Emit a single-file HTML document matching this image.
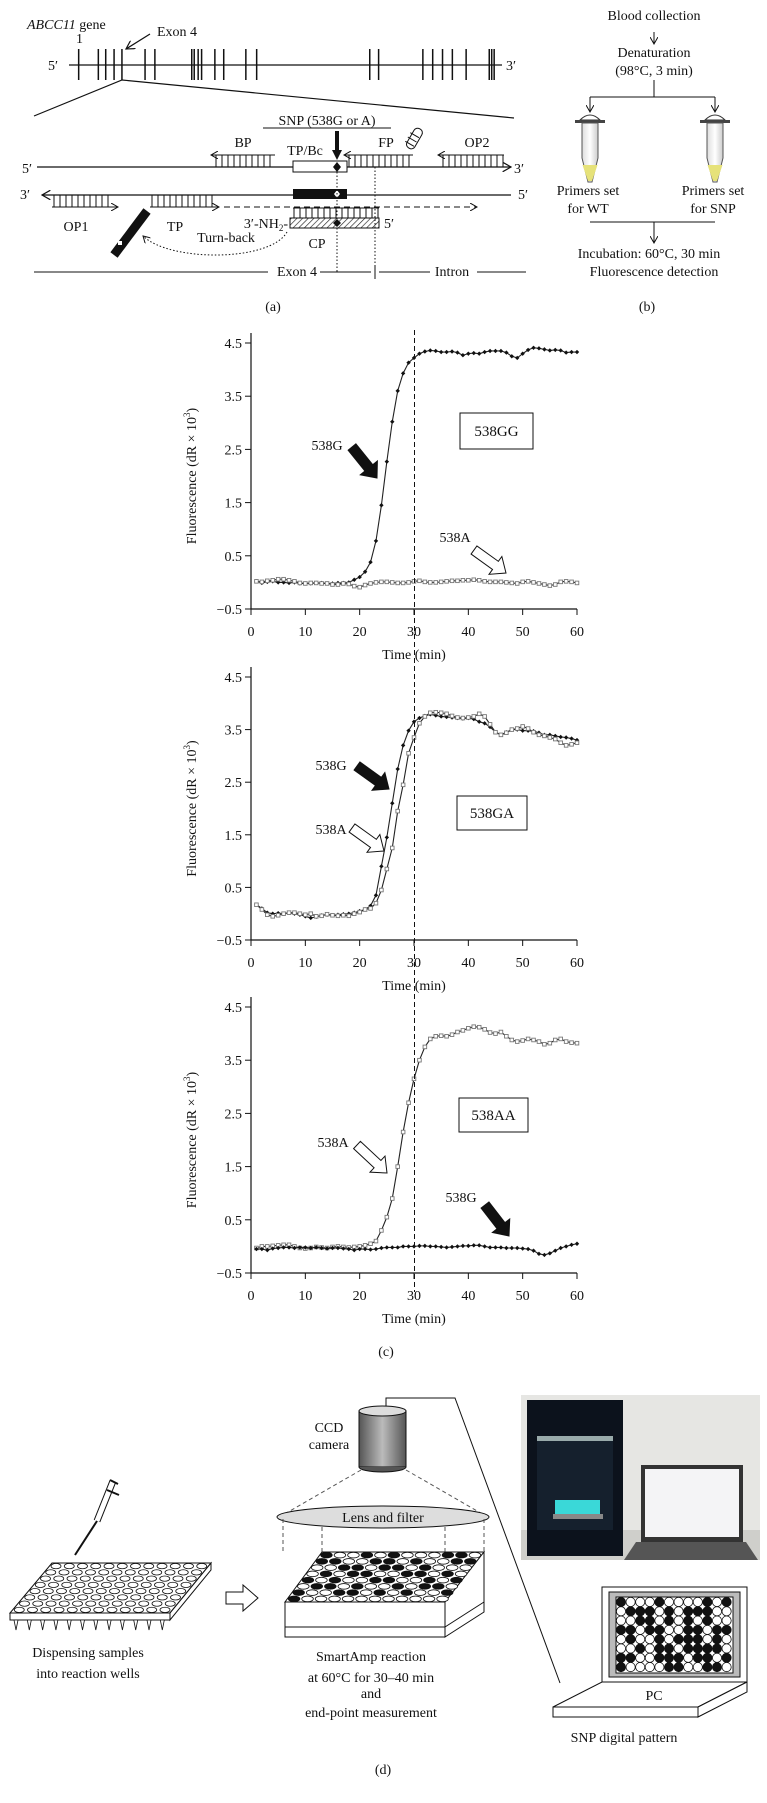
<!DOCTYPE html>
<html><head><meta charset="utf-8"><style>
html,body{margin:0;padding:0;background:#fff}
svg{display:block}
text{font-family:"Liberation Serif",serif;fill:#111}
</style></head><body>
<svg id="fig" width="767" height="1803" viewBox="0 0 767 1803" xmlns="http://www.w3.org/2000/svg">
<defs>
<pattern id="hatch" width="4" height="4" patternUnits="userSpaceOnUse" patternTransform="rotate(45)"><line x1="0" y1="0" x2="0" y2="4" stroke="#222" stroke-width="1.3"/></pattern>
<marker id="ah" markerWidth="8" markerHeight="8" refX="7" refY="4" orient="auto"><path d="M0,0 L7,4 L0,8" fill="none" stroke="#111" stroke-width="1"/></marker>
<linearGradient id="tubeg" x1="0" x2="1"><stop offset="0" stop-color="#ddd"/><stop offset="0.5" stop-color="#fff"/><stop offset="1" stop-color="#ccc"/></linearGradient>
<linearGradient id="camg" x1="0" x2="1"><stop offset="0" stop-color="#555"/><stop offset="0.5" stop-color="#bbb"/><stop offset="1" stop-color="#555"/></linearGradient>
</defs>

<!-- PANEL A -->
<g id="panel-a" font-size="14">
<text x="27" y="29" font-style="italic">ABCC11<tspan font-style="normal"> gene</tspan></text>
<text x="76" y="43">1</text>
<text x="157" y="36">Exon 4</text>
<line x1="150" y1="34" x2="126" y2="49" stroke="#111" stroke-width="1.2" marker-end="url(#ah)"/>
<text x="48" y="70">5′</text>
<text x="506" y="70">3′</text>
<line x1="69" y1="65" x2="502" y2="65" stroke="#111" stroke-width="1.2"/>
<g id="exons" stroke="#111" stroke-width="1.5"></g>
<polyline points="34,116 122,80 514,118" fill="none" stroke="#111" stroke-width="1.2"/>
<text x="327" y="125" text-anchor="middle">SNP (538G or A)</text>
<line x1="263" y1="128" x2="391" y2="128" stroke="#111"/>
<polygon points="335,131 339,131 339,150 342,150 337,160 332,150 335,150" fill="#111"/>
<text x="22" y="173">5′</text>
<line x1="37" y1="167" x2="511" y2="167" stroke="#111" stroke-width="1.2" marker-end="url(#ah)"/>
<text x="514" y="173">3′</text>
<text x="243" y="147" text-anchor="middle">BP</text>
<text x="305" y="155" text-anchor="middle">TP/Bc</text>
<text x="386" y="147" text-anchor="middle">FP</text>
<text x="477" y="147" text-anchor="middle">OP2</text>
<g id="primers-top" stroke="#111" stroke-width="1" fill="none"></g>
<rect x="293" y="161" width="54" height="11" fill="#fff" stroke="#111"/>
<polygon points="337,162 341,167 337,172 333,167" fill="#111"/>
<rect x="409" y="127" width="9" height="22" rx="4" fill="#fff" stroke="#111" transform="rotate(30 413 140)"/>
<line x1="407" y1="135" x2="417" y2="135" stroke="#111" transform="rotate(30 413 140)"/>
<line x1="407" y1="140" x2="417" y2="140" stroke="#111" transform="rotate(30 413 140)"/>
<line x1="407" y1="145" x2="417" y2="145" stroke="#111" transform="rotate(30 413 140)"/>
<text x="20" y="199">3′</text>
<line x1="511" y1="195" x2="42" y2="195" stroke="#111" stroke-width="1.2" marker-end="url(#ah)"/>
<text x="518" y="199">5′</text>
<rect x="293" y="189" width="54" height="10" fill="#111"/>
<polygon points="337,190 340,194 337,198 334,194" fill="#fff"/>
<g id="primers-bot" stroke="#111" stroke-width="1" fill="none"></g>
<line x1="224" y1="207" x2="477" y2="207" stroke="#111" stroke-dasharray="6,4" marker-end="url(#ah)"/>
<text x="76" y="231" text-anchor="middle">OP1</text>
<text x="175" y="231" text-anchor="middle">TP</text>
<line x1="147" y1="211" x2="114" y2="255" stroke="#111" stroke-width="9"/>
<rect x="118" y="241" width="4" height="4" fill="#fff"/>
<rect x="290" y="218" width="89" height="10" fill="url(#hatch)" stroke="#111"/>
<polygon points="337,219 341,223 337,227 333,223" fill="#111"/>
<text x="288" y="228" text-anchor="end">3′-NH<tspan font-size="9" dy="3">2</tspan><tspan dy="-3">-</tspan></text>
<text x="384" y="228">5′</text>
<text x="317" y="248" text-anchor="middle">CP</text>
<text x="226" y="242" text-anchor="middle">Turn-back</text>
<path d="M287,232 C270,262 170,262 143,236" fill="none" stroke="#111" stroke-dasharray="1.5,2" marker-end="url(#ah)"/>
<line x1="337" y1="172" x2="337" y2="272" stroke="#111" stroke-dasharray="1.5,2"/>
<line x1="375" y1="167" x2="375" y2="276" stroke="#111" stroke-dasharray="1.5,2"/>
<line x1="34" y1="272" x2="268" y2="272" stroke="#111"/>
<text x="297" y="276" text-anchor="middle">Exon 4</text>
<line x1="320" y1="272" x2="371" y2="272" stroke="#111"/>
<line x1="430" y1="272" x2="379" y2="272" stroke="#111"/>
<line x1="375" y1="265" x2="375" y2="279" stroke="#111"/>
<text x="452" y="276" text-anchor="middle">Intron</text>
<line x1="477" y1="272" x2="526" y2="272" stroke="#111"/>
<text x="273" y="311" text-anchor="middle">(a)</text>
</g>

<!-- PANEL B -->
<g id="panel-b" font-size="14" text-anchor="middle">
<text x="654" y="20">Blood collection</text>
<line x1="654" y1="32" x2="654" y2="44" stroke="#111" marker-end="url(#ah)"/>
<text x="654" y="57">Denaturation</text>
<text x="654" y="75">(98°C, 3 min)</text>
<polyline points="654,80 654,97" fill="none" stroke="#111"/>
<line x1="590" y1="97" x2="715" y2="97" stroke="#111"/>
<line x1="590" y1="97" x2="590" y2="112" stroke="#111" marker-end="url(#ah)"/>
<line x1="715" y1="97" x2="715" y2="112" stroke="#111" marker-end="url(#ah)"/>
<g id="tube-wt" transform="translate(590,0)">
<path d="M-10,120 Q0,110 10,120 Z" fill="#fff" stroke="#333"/><rect x="-15" y="120" width="30" height="3" fill="#444"/>
<path d="M-8,123 L8,123 L8,158 L2,182 L-2,182 L-8,158 Z" fill="url(#tubeg)" stroke="#555"/>
<path d="M-7.5,165 L7.5,165 L2,181 L-2,181 Z" fill="#e6e27a"/></g>
<g id="tube-snp" transform="translate(715,0)">
<path d="M-10,120 Q0,110 10,120 Z" fill="#fff" stroke="#333"/><rect x="-15" y="120" width="30" height="3" fill="#444"/>
<path d="M-8,123 L8,123 L8,158 L2,182 L-2,182 L-8,158 Z" fill="url(#tubeg)" stroke="#555"/>
<path d="M-7.5,165 L7.5,165 L2,181 L-2,181 Z" fill="#e6e27a"/></g>
<text x="588" y="195">Primers set</text><text x="588" y="213">for WT</text>
<text x="713" y="195">Primers set</text><text x="713" y="213">for SNP</text>
<line x1="590" y1="222" x2="715" y2="222" stroke="#111"/>
<line x1="654" y1="222" x2="654" y2="243" stroke="#111" marker-end="url(#ah)"/>
<text x="649" y="258">Incubation: 60°C, 30 min</text>
<text x="654" y="276">Fluorescence detection</text>
<text x="647" y="311">(b)</text>
</g>

<!-- PANEL C CHARTS -->
<g id="charts"></g>
<line x1="414.5" y1="330" x2="414.5" y2="1292" stroke="#111" stroke-dasharray="5,3"/>
<text x="386" y="1356" font-size="14" text-anchor="middle">(c)</text>

<!-- PANEL D -->
<g id="panel-d" font-size="14">
<g>
<line x1="113" y1="1481" x2="97" y2="1521" stroke="#111" stroke-width="7"/>
<line x1="113" y1="1481" x2="97" y2="1521" stroke="#fff" stroke-width="5"/>
<line x1="107" y1="1490" x2="119" y2="1495" stroke="#111" stroke-width="2"/>
<line x1="110" y1="1480" x2="118" y2="1484" stroke="#111" stroke-width="2"/>
<line x1="97" y1="1521" x2="75" y2="1555" stroke="#111" stroke-width="2"/>
</g>
<g id="plate1">
<polygon points="52,1563 211,1563 170,1613 10,1613" fill="#fff" stroke="#111"/>
<polygon points="10,1613 170,1613 170,1620 10,1620" fill="#fff" stroke="#111"/>
<polygon points="170,1613 211,1563 211,1570 170,1620" fill="#fff" stroke="#111"/>
</g>
<text x="88" y="1657" text-anchor="middle">Dispensing samples</text>
<text x="88" y="1678" text-anchor="middle">into reaction wells</text>
<polygon points="226,1592 243,1592 243,1585 258,1598 243,1611 243,1604 226,1604" fill="#fff" stroke="#111"/>
<polyline points="386,1409 386,1398 455,1398 560,1683" fill="none" stroke="#111"/>
<rect x="359" y="1411" width="47" height="56" fill="url(#camg)" stroke="#111"/>
<ellipse cx="382.5" cy="1411" rx="23.5" ry="5" fill="#ddd" stroke="#111"/>
<path d="M359,1467 A23.5,5 0 0 0 406,1467" fill="#555" stroke="#111"/>
<text x="329" y="1432" text-anchor="middle">CCD</text>
<text x="329" y="1449" text-anchor="middle">camera</text>
<line x1="361" y1="1470" x2="283" y2="1515" stroke="#555" stroke-dasharray="4,3"/>
<line x1="406" y1="1470" x2="484" y2="1515" stroke="#555" stroke-dasharray="4,3"/>
<ellipse cx="383" cy="1517" rx="106" ry="11" fill="#ddd" stroke="#111"/>
<text x="383" y="1522" text-anchor="middle">Lens and filter</text>
<g stroke="#555" stroke-dasharray="4,3"><line x1="283" y1="1519" x2="283" y2="1553"/><line x1="322" y1="1527" x2="322" y2="1552"/><line x1="445" y1="1527" x2="445" y2="1552"/><line x1="484" y1="1519" x2="484" y2="1553"/></g>
<g id="plate2">
<polygon points="322,1552 484,1552 445,1602 285,1602" fill="#fff" stroke="#111"/>
<rect x="285" y="1602" width="160" height="35" fill="#fff" stroke="#111"/>
<line x1="285" y1="1627" x2="445" y2="1627" stroke="#111"/>
<polygon points="445,1602 484,1552 484,1612 445,1637" fill="#fff" stroke="#111"/>
<line x1="445" y1="1627" x2="484" y2="1602" stroke="#111"/>
</g>
<text x="371" y="1661" text-anchor="middle">SmartAmp reaction</text>
<text x="371" y="1682" text-anchor="middle">at 60°C for 30–40 min</text>
<text x="371" y="1698" text-anchor="middle">and</text>
<text x="371" y="1717" text-anchor="middle">end-point measurement</text>
<g>
<rect x="521" y="1395" width="239" height="165" fill="#e6e6e3"/>
<rect x="521" y="1530" width="239" height="30" fill="#cfcfcb"/>
<rect x="527" y="1400" width="96" height="156" fill="#0c121c"/>
<rect x="537" y="1438" width="76" height="92" fill="#15202d"/>
<rect x="537" y="1436" width="76" height="5" fill="#9aa"/>
<rect x="555" y="1500" width="45" height="14" fill="#3ad8d8"/>
<rect x="553" y="1514" width="50" height="5" fill="#888"/>
<rect x="641" y="1465" width="102" height="77" fill="#333"/>
<rect x="645" y="1469" width="94" height="68" fill="#f4f4f6"/>
<polygon points="636,1542 746,1542 758,1560 624,1560" fill="#555"/>
</g>
<g>
<rect x="602" y="1587" width="145" height="95" fill="#fff" stroke="#111"/>
<rect x="609" y="1592" width="131" height="85" fill="#bbb" stroke="#111"/>
<rect x="616" y="1597" width="117" height="76" fill="#fff" stroke="#111"/>
<polygon points="602,1682 747,1682 698,1707 553,1707" fill="#fff" stroke="#111"/>
<rect x="553" y="1707" width="145" height="10" fill="#fff" stroke="#111"/>
<polygon points="698,1707 747,1682 747,1692 698,1717" fill="#fff" stroke="#111"/>
<text x="654" y="1700" text-anchor="middle">PC</text>
</g>
<g id="screen-wells"></g>
<text x="624" y="1742" text-anchor="middle">SNP digital pattern</text>
<text x="383" y="1774" text-anchor="middle">(d)</text>
</g>
</svg>
<script>
const timePoints = Array.from({length:60},(_,i)=>i+1);
const xTicks = [0,10,20,30,40,50,60];
const yTicks = [-0.5,0.5,1.5,2.5,3.5,4.5];
const yTickLabels = ["\u22120.5","0.5","1.5","2.5","3.5","4.5"];
const gg538G = [0.02,-0.01,0.01,0.02,0.0,0.0,-0.01,0.0,-0.02,-0.02,-0.02,-0.01,-0.01,-0.02,-0.02,-0.01,-0.01,0.0,0.05,0.1,0.2,0.38,0.78,1.45,2.27,3.02,3.6,3.93,4.13,4.22,4.3,4.34,4.36,4.35,4.33,4.33,4.34,4.32,4.27,4.3,4.31,4.3,4.33,4.35,4.35,4.35,4.32,4.25,4.22,4.3,4.37,4.41,4.4,4.38,4.36,4.37,4.36,4.32,4.33,4.33];
const gg538A = [0.02,0.01,0.03,0.04,0.06,0.06,0.04,0.02,-0.01,-0.02,-0.01,-0.01,-0.02,-0.02,-0.04,-0.04,-0.02,-0.03,-0.07,-0.09,-0.05,-0.02,0,0.01,0.01,0,-0.01,-0.01,0,0.02,0.03,0.01,0,0,0.01,0.02,0.03,0.03,0.04,0.04,0.05,0.04,0.02,0.01,0.01,0.01,0.0,-0.01,-0.02,0.01,0.02,0.0,-0.02,-0.04,-0.06,-0.04,0.01,0.02,0.01,-0.01];
const ga538G = [0.17,0.1,0.02,0.0,0.01,0.0,0.02,0.0,-0.02,-0.05,-0.08,-0.06,-0.03,-0.02,-0.03,-0.02,-0.01,0.0,0.02,0.05,0.08,0.15,0.35,0.9,1.45,2.1,2.75,3.2,3.48,3.65,3.72,3.76,3.79,3.77,3.75,3.74,3.73,3.72,3.71,3.72,3.7,3.65,3.62,3.55,3.45,3.4,3.45,3.5,3.5,3.48,3.48,3.47,3.44,3.4,3.4,3.38,3.36,3.35,3.33,3.3];
const ga538A = [0.17,0.08,-0.02,-0.05,-0.03,0.0,0.02,0.02,0.0,-0.02,0.0,-0.05,-0.04,-0.01,-0.03,-0.04,-0.03,-0.04,0.0,0.03,0.08,0.1,0.2,0.45,0.85,1.25,1.95,2.45,3.05,3.35,3.62,3.75,3.82,3.83,3.82,3.8,3.76,3.73,3.72,3.73,3.75,3.8,3.75,3.6,3.45,3.4,3.44,3.5,3.52,3.56,3.52,3.45,3.4,3.38,3.35,3.32,3.25,3.2,3.22,3.25];
const aa538A = [-0.03,0.0,0.0,0.01,0.02,0.03,0.03,0.0,-0.03,-0.04,-0.03,-0.01,-0.02,-0.03,-0.01,0.0,-0.01,-0.02,-0.01,0.0,0.02,0.05,0.1,0.3,0.55,0.9,1.5,2.15,2.7,3.15,3.5,3.75,3.9,3.95,3.96,3.95,3.98,4.03,4.06,4.1,4.13,4.12,4.08,4.02,4.0,4.03,3.95,3.88,3.85,3.87,3.9,3.88,3.85,3.8,3.82,3.88,3.9,3.85,3.83,3.82];
const aa538G = [-0.05,-0.05,-0.07,-0.04,-0.03,-0.02,-0.02,-0.03,-0.02,-0.02,-0.03,-0.02,-0.03,-0.04,-0.03,-0.03,-0.04,-0.05,-0.07,-0.05,-0.05,-0.06,-0.05,-0.03,-0.02,-0.02,-0.02,0.0,0.0,0.0,0.01,0.01,0.0,0.0,-0.01,-0.02,-0.01,0.0,0.01,0.01,0.02,0.02,0.0,-0.02,-0.02,-0.02,-0.03,-0.03,-0.03,-0.04,-0.05,-0.08,-0.14,-0.16,-0.13,-0.08,-0.03,0.0,0.03,0.05];

const NS="http://www.w3.org/2000/svg";
function mk(tag,attrs,parent){const e=document.createElementNS(NS,tag);for(const k in attrs)e.setAttribute(k,attrs[k]);if(parent)parent.appendChild(e);return e;}

const exonX=[160,200,215,232,248,295,315,390,395,403,410,437,455,500,522,752,770,860,880,900,920,948,995,1000,1005];
const exG=document.getElementById('exons');
exonX.forEach(px=>{const x=px*0.4917;mk('line',{x1:x,y1:49,x2:x,y2:80},exG);});
function primer(g,x1,x2,ly,ty,dir){
  if(dir<0) mk('line',{x1:x2,y1:ly,x2:x1,y2:ly,'marker-end':'url(#ah)'},g); else mk('line',{x1:x1,y1:ly,x2:x2,y2:ly,'marker-end':'url(#ah)'},g);
  for(let x=(dir<0?x1+5:x1+2);x<=x2-(dir<0?1:6);x+=6) mk('line',{x1:x,y1:ly,x2:x,y2:ty},g);
}
const pt=document.getElementById('primers-top');
primer(pt,211,275,155,167,-1);
primer(pt,344,413,155,167,-1);
primer(pt,438,504,155,167,-1);
const pb=document.getElementById('primers-bot');
primer(pb,52,118,207,195,1);
primer(pb,150,219,207,195,1);
for(let x=294;x<=378;x+=6) mk('line',{x1:x,y1:208,x2:x,y2:218},pb);
mk('line',{x1:293,y1:208,x2:379,y2:208},pb);

const x0px=251, x60px=577;
function xs(t){return x0px+(t/60)*(x60px-x0px);}
const chartsG=document.getElementById('charts');
function blockArrow(g,x1,y1,x2,y2,fill){
  const dx=x2-x1,dy=y2-y1,L=Math.hypot(dx,dy),ux=dx/L,uy=dy/L,nx=-uy,ny=ux;
  const sw=5,hw=11,hl=13;const bx=x2-ux*hl,by=y2-uy*hl;
  const p=[[x1+nx*sw,y1+ny*sw],[bx+nx*sw,by+ny*sw],[bx+nx*hw,by+ny*hw],[x2,y2],[bx-nx*hw,by-ny*hw],[bx-nx*sw,by-ny*sw],[x1-nx*sw,y1-ny*sw]];
  return mk('polygon',{points:p.map(q=>q.join(',')).join(' '),fill:fill,stroke:'#111','stroke-width':1},g);
}
function drawChart(cfg){
  const g=mk('g',{},chartsG);
  
  
  const ys=v=>cfg.bot+(v+0.5)/5*(cfg.top-cfg.bot);
  const ax=mk('path',{d:`M${x0px},${cfg.top-10} L${x0px},${cfg.bot} L${x60px},${cfg.bot}`,fill:'none',stroke:'#111','stroke-width':1.2},g);
  
  
  yTicks.forEach((v,i)=>{
    mk('line',{x1:x0px-6,y1:ys(v),x2:x0px,y2:ys(v),stroke:'#111'},g);
    const t=mk('text',{x:x0px-9,y:ys(v)+5,'text-anchor':'end','font-size':14},g);t.textContent=yTickLabels[i];
    
    
  });
  xTicks.forEach(v=>{
    mk('line',{x1:xs(v),y1:cfg.bot,x2:xs(v),y2:cfg.bot+6,stroke:'#111'},g);
    const t=mk('text',{x:xs(v),y:cfg.bot+27,'text-anchor':'middle','font-size':14},g);t.textContent=v;
    
    
  });
  const xt=mk('text',{x:(x0px+x60px)/2,y:cfg.bot+50,'text-anchor':'middle','font-size':14},g);xt.textContent='Time (min)';
  
  
  const cy=(cfg.top+cfg.bot)/2;
  const yt=mk('text',{x:196,y:cy,'text-anchor':'middle','font-size':14,transform:`rotate(-90 196 ${cy})`},g);
  yt.innerHTML='Fluorescence (dR \u00d7 10<tspan font-size="9" dy="-6">3</tspan><tspan dy="6">)</tspan>';
  
  
  cfg.series.forEach(s=>{
    const pts=timePoints.map((t,i)=>[xs(t),ys(s.vals[i])]);
    const pl=mk('polyline',{points:pts.map(p=>p.join(',')).join(' '),fill:'none',stroke:'#222','stroke-width':1.1},g);
    
    
    pts.forEach(p=>{
      let m;
      if(s.filled) m=mk('polygon',{points:`${p[0]},${p[1]-2.2} ${p[0]+2.2},${p[1]} ${p[0]},${p[1]+2.2} ${p[0]-2.2},${p[1]}`,fill:'#111'},g);
      else m=mk('rect',{x:p[0]-1.8,y:p[1]-1.8,width:3.6,height:3.6,fill:'#fff',stroke:'#777','stroke-width':0.9},g);
      
      
    });
  });
  const b=cfg.box;
  const br=mk('rect',{x:b[0],y:b[1],width:b[2],height:b[3],fill:'#fff',stroke:'#111'},g);
  
  
  const bt=mk('text',{x:b[0]+b[2]/2,y:b[1]+b[3]/2+5,'text-anchor':'middle','font-size':15},g);bt.textContent=cfg.genotype;
  
  
  cfg.arrows.forEach(a=>{
    const ar=blockArrow(g,a.from[0],a.from[1],a.to[0],a.to[1],a.fill);
    
    
    const at=mk('text',{x:a.label[0],y:a.label[1],'text-anchor':'middle','font-size':14},g);at.textContent=a.text;
    
    
  });
}
drawChart({name:'chart-538gg',top:343,bot:609,genotype:'538GG',box:[460,413,73,36],
  series:[{name:'series-538g',vals:gg538G,filled:true},{name:'series-538a',vals:gg538A,filled:false}],
  arrows:[{from:[352,447],to:[377,478],fill:'#111',label:[327,450],text:'538G'},{from:[474,550],to:[506,573],fill:'#fff',label:[455,542],text:'538A'}]});
drawChart({name:'chart-538ga',top:677,bot:940,genotype:'538GA',box:[457,796,70,34],
  series:[{name:'series-538g',vals:ga538G,filled:true},{name:'series-538a',vals:ga538A,filled:false}],
  arrows:[{from:[357,766],to:[389,789],fill:'#111',label:[331,770],text:'538G'},{from:[352,828],to:[384,851],fill:'#fff',label:[331,834],text:'538A'}]});
drawChart({name:'chart-538aa',top:1007,bot:1273,genotype:'538AA',box:[459,1098,69,34],
  series:[{name:'series-538a',vals:aa538A,filled:false},{name:'series-538g',vals:aa538G,filled:true}],
  arrows:[{from:[357,1145],to:[387,1173],fill:'#fff',label:[333,1147],text:'538A'},{from:[485,1205],to:[509,1236],fill:'#111',label:[461,1202],text:'538G'}]});

function wells(gid,TL,TR,FL,rx,ry,pattern){
  const g=document.getElementById(gid);
  for(let r=0;r<8;r++)for(let c=0;c<12;c++){
    const u=(c+0.5)/12,v=(r+0.5)/8;
    const x=TL[0]+u*(TR[0]-TL[0])+v*(FL[0]-TL[0]);
    const y=TL[1]+u*(TR[1]-TL[1])+v*(FL[1]-TL[1]);
    const f=pattern&&pattern[r][c]==='1'?'#111':'#fff';
    mk('ellipse',{cx:x,cy:y,rx:rx,ry:ry,fill:f,stroke:'#111','stroke-width':0.8},g);
  }
}
wells('plate1',[52,1563],[211,1563],[10,1613],5,2.6,null);
const p1=document.getElementById('plate1');
for(let i=0;i<12;i++){const x=16+i*13.3;mk('polygon',{points:`${x-2},1620 ${x+2},1620 ${x},1630`,fill:'#fff',stroke:'#111','stroke-width':0.8},p1);}
const platePattern=["100101000110","110011010011","001101101000","010110011010","101001100101","011010010110","100110101001","100000000000"];
wells('plate2',[322,1552],[484,1552],[285,1602],5.8,2.8,platePattern);
const screenPattern=["100010000101","011101011100","001101010100","110110011011","010010111010","001011011110","110011101101","100001100110"];
(function(){const g=document.getElementById('screen-wells');
 for(let r=0;r<8;r++)for(let c=0;c<12;c++){
   mk('ellipse',{cx:621+c*9.6,cy:1602+r*9.3,rx:4.6,ry:4.6,fill:screenPattern[r][c]==='1'?'#111':'#fff',stroke:'#111','stroke-width':0.8},g);
 }})();
</script>
</body></html>
